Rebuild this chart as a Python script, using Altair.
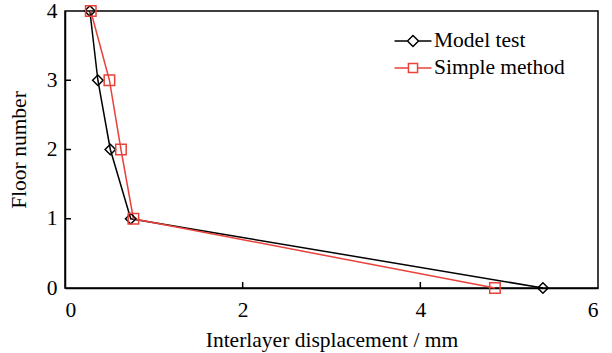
import altair as alt
import pandas as pd

floors = [4, 3, 2, 1, 0]
model_test = [0.28, 0.37, 0.51, 0.74, 5.38]
simple_method = [0.29, 0.50, 0.63, 0.77, 4.84]
series_names = ["Model test", "Simple method"]
colors = ["#000000", "#e8423a"]
x_ticks = [0, 2, 4, 6]
y_ticks = [0, 1, 2, 3, 4]

rows = []
for f, v in zip(floors, model_test):
    rows.append({"series": "Model test", "floor": f, "disp": v})
for f, v in zip(floors, simple_method):
    rows.append({"series": "Simple method", "floor": f, "disp": v})
df = pd.DataFrame(rows)

FONT = "Liberation Serif"
FS = 21.5

xscale = alt.Scale(domain=[0, 6], nice=False)
yscale = alt.Scale(domain=[0, 4], nice=False)
xaxis = alt.Axis(values=x_ticks, title="Interlayer displacement / mm",
                 grid=False, ticks=False, labelPadding=11, titlePadding=9)
yaxis = alt.Axis(values=y_ticks, title="Floor number",
                 grid=False, ticks=False, labelPadding=8, titlePadding=16)

x = alt.X("disp:Q", scale=xscale, axis=xaxis)
y = alt.Y("floor:Q", scale=yscale, axis=yaxis)

color_plain = alt.Color("series:N", scale=alt.Scale(domain=series_names, range=colors), legend=None)

lines = alt.Chart(df).mark_line(strokeWidth=1.5).encode(
    x=x, y=y, color=color_plain, detail="series:N", order="floor:Q")

points = alt.Chart(df).mark_point(filled=False, strokeWidth=1.5, size=110, opacity=1).encode(
    x=x, y=y, color=color_plain,
    shape=alt.Shape("series:N", scale=alt.Scale(domain=series_names, range=["diamond", "square"]), legend=None),
)

xt = pd.DataFrame({"disp": x_ticks[1:-1]})
yt = pd.DataFrame({"floor": y_ticks[1:-1]})
xtick_layer = alt.Chart(xt).mark_rule(color="#000", strokeWidth=1.5).encode(
    x=alt.X("disp:Q", scale=xscale, axis=xaxis), y=alt.value(277), y2=alt.value(271))
ytick_layer = alt.Chart(yt).mark_rule(color="#000", strokeWidth=1.5).encode(
    y=alt.Y("floor:Q", scale=yscale, axis=yaxis), x=alt.value(0), x2=alt.value(6))

diamond_path = "M-1.54,0L-0.46,0M0.46,0L1.54,0M-0.46,0L0,-0.46L0.46,0L0,0.46Z"
square_path = "M-1.54,0L-0.38,0M0.38,0L1.54,0M-0.38,-0.38L0.38,-0.38L0.38,0.38L-0.38,0.38Z"

legend = alt.Legend(title=None, orient="none", legendX=335, legendY=17,
                    symbolSize=576, symbolStrokeWidth=1.5, labelFont=FONT,
                    labelFontSize=FS, labelColor="#000", rowPadding=3, labelOffset=8)

legend_layer = alt.Chart(df).mark_point(filled=False, strokeWidth=1.5, opacity=1).encode(
    x=x, y=y,
    color=alt.Color("series:N", scale=alt.Scale(domain=series_names, range=colors), legend=legend),
    shape=alt.Shape("series:N", scale=alt.Scale(domain=series_names, range=[diamond_path, square_path]), legend=legend),
).transform_filter("false")

chart = alt.layer(lines, points, xtick_layer, ytick_layer, legend_layer).resolve_scale(
    color="independent", shape="independent"
).properties(
    width=533, height=277,
    autosize=alt.AutoSizeParams(type="none"),
    padding={"left": 65, "top": 11, "right": 14, "bottom": 65},
).configure_view(stroke="#000", strokeWidth=1.5).configure_axis(
    domainColor="#000", domainWidth=1.5,
    labelFont=FONT, labelFontSize=FS, labelColor="#000",
    titleFont=FONT, titleFontSize=FS, titleColor="#000", titleFontWeight="normal",
)

chart.save("out.html", embed_options={"renderer": "svg", "actions": False})
